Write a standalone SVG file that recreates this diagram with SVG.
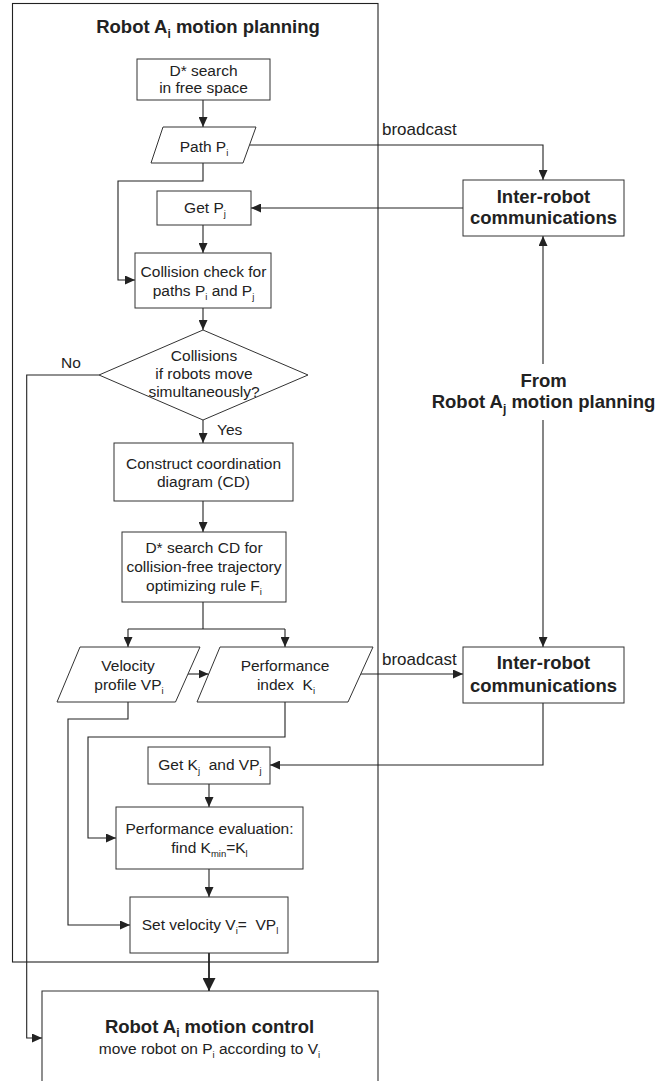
<svg xmlns="http://www.w3.org/2000/svg" width="670" height="1081" viewBox="0 0 670 1081">
<defs>
<style>
.bx{fill:#fff;stroke:#333;stroke-width:1}
.ln{fill:none;stroke:#222;stroke-width:1.1}
.t{font-family:"Liberation Sans",Arial,sans-serif;font-size:15.5px;fill:#222;text-anchor:middle;white-space:pre}
.b{font-family:"Liberation Sans",Arial,sans-serif;font-size:18.5px;font-weight:bold;fill:#222;text-anchor:middle}
.l{font-family:"Liberation Sans",Arial,sans-serif;font-size:17px;fill:#222}
.s{font-size:9.5px}
.sb{font-size:12px}
</style>
<marker id="ah" markerUnits="userSpaceOnUse" markerWidth="10" markerHeight="9" refX="10" refY="4.5" orient="auto"><path d="M0,0 L10,4.5 L0,9 z" fill="#222"/></marker>
<marker id="ahb" markerUnits="userSpaceOnUse" markerWidth="13" markerHeight="13" refX="13" refY="6.5" orient="auto"><path d="M0,0 L13,6.5 L0,13 z" fill="#222"/></marker>
</defs>
<rect width="670" height="1081" fill="#fff"/>

<g id="planning-frame">
<rect x="12.5" y="3.5" width="365.5" height="958.5" fill="none" stroke="#222" stroke-width="1.1"/>
<text class="b" x="208" y="33">Robot A<tspan class="sb" dy="5">i</tspan><tspan dy="-5"> motion planning</tspan></text>
</g>

<g id="connectors">
<path class="ln" d="M203,100 V127" marker-end="url(#ah)"/>
<path class="ln" d="M249.5,145 H543 V180" marker-end="url(#ah)"/>
<path class="ln" d="M463,208 H251" marker-end="url(#ah)"/>
<path class="ln" d="M203,163 V181 H118 V280 H135" marker-end="url(#ah)"/>
<path class="ln" d="M203,225 V253" marker-end="url(#ah)"/>
<path class="ln" d="M203,308 V330" marker-end="url(#ah)"/>
<path class="ln" d="M99,375 H26.7 V1038 H42" marker-end="url(#ah)"/>
<path class="ln" d="M203,420 V443" marker-end="url(#ah)"/>
<path class="ln" d="M203,501 V532" marker-end="url(#ah)"/>
<path class="ln" d="M203,602 V629"/>
<path class="ln" d="M128,629 H285"/>
<path class="ln" d="M128,629 V647" marker-end="url(#ah)"/>
<path class="ln" d="M285,629 V647" marker-end="url(#ah)"/>
<path class="ln" d="M187.7,674 H208.5" marker-end="url(#ah)"/>
<path class="ln" d="M360.7,674 H463" marker-end="url(#ah)"/>
<path class="ln" d="M543,364 V236" marker-end="url(#ah)"/>
<path class="ln" d="M543,420 V647" marker-end="url(#ah)"/>
<path class="ln" d="M543,703 V765 H270" marker-end="url(#ah)"/>
<path class="ln" d="M128,702 V719 H68 V925 H130" marker-end="url(#ah)"/>
<path class="ln" d="M285,702 V737 H88 V838 H116" marker-end="url(#ah)"/>
<path class="ln" d="M209,784 V807" marker-end="url(#ah)"/>
<path class="ln" d="M209,869 V897" marker-end="url(#ah)"/>
<path fill="none" stroke="#222" stroke-width="1.8" d="M209,953 V991" marker-end="url(#ahb)"/>
<text class="l" x="382" y="135">broadcast</text>
<text class="l" x="382" y="665">broadcast</text>
<text class="t" x="71" y="368">No</text>
<text class="t" x="217" y="435" style="text-anchor:start">Yes</text>
</g>

<g id="dstar-free">
<rect class="bx" x="137" y="59" width="133" height="41"/>
<text class="t" x="203.5" y="76">D* search</text>
<text class="t" x="203.5" y="93">in free space</text>
</g>

<g id="path-pi">
<polygon class="bx" points="163,127 256,127 243,163 151,163"/>
<text class="t" x="204" y="152">Path P<tspan class="s" dy="4">i</tspan></text>
</g>

<g id="get-pj">
<rect class="bx" x="157" y="191" width="94" height="34"/>
<text class="t" x="205" y="213">Get P<tspan class="s" dy="4">j</tspan></text>
</g>

<g id="collision-check">
<rect class="bx" x="135" y="253" width="136" height="55"/>
<text class="t" x="203.5" y="277">Collision check for</text>
<text class="t" x="203.5" y="296">paths P<tspan class="s" dy="4">i</tspan><tspan dy="-4"> and P</tspan><tspan class="s" dy="4">j</tspan></text>
</g>

<g id="decision">
<polygon class="bx" points="203,330 308,375 203,420 99,375"/>
<text class="t" x="204" y="361">Collisions</text>
<text class="t" x="204" y="379">if robots move</text>
<text class="t" x="204" y="397">simultaneously?</text>
</g>

<g id="construct-cd">
<rect class="bx" x="114" y="443" width="179" height="58"/>
<text class="t" x="203.5" y="469">Construct coordination</text>
<text class="t" x="203.5" y="487">diagram (CD)</text>
</g>

<g id="dstar-cd">
<rect class="bx" x="122" y="532" width="164" height="70"/>
<text class="t" x="204" y="553">D* search CD for</text>
<text class="t" x="204" y="572">collision-free trajectory</text>
<text class="t" x="204" y="591">optimizing rule F<tspan class="s" dy="4">i</tspan></text>
</g>

<g id="velocity-profile">
<polygon class="bx" points="80,647 200,647 175.5,702 57,702"/>
<text class="t" x="128" y="671">Velocity</text>
<text class="t" x="129" y="690">profile VP<tspan class="s" dy="4">i</tspan></text>
</g>

<g id="performance-index">
<polygon class="bx" points="220,647 373,647 348,702 197,702"/>
<text class="t" x="285" y="671">Performance</text>
<text class="t" x="286" y="690">index  K<tspan class="s" dy="4">i</tspan></text>
</g>

<g id="inter-robot-1">
<rect class="bx" x="463" y="180" width="161" height="56"/>
<text class="b" x="543.5" y="203">Inter-robot</text>
<text class="b" x="543.5" y="224">communications</text>
</g>

<g id="from-robot-aj">
<text class="b" x="543.5" y="387">From</text>
<text class="b" x="543.5" y="408">Robot A<tspan class="sb" dy="5">j</tspan><tspan dy="-5"> motion planning</tspan></text>
</g>

<g id="inter-robot-2">
<rect class="bx" x="463" y="647" width="161" height="56"/>
<text class="b" x="543.5" y="669">Inter-robot</text>
<text class="b" x="543.5" y="692">communications</text>
</g>

<g id="get-kj">
<rect class="bx" x="148" y="747" width="122" height="37"/>
<text class="t" x="210" y="770">Get K<tspan class="s" dy="4">j</tspan><tspan dy="-4">  and VP</tspan><tspan class="s" dy="4">j</tspan></text>
</g>

<g id="performance-eval">
<rect class="bx" x="116" y="807" width="187" height="62"/>
<text class="t" x="209.5" y="834">Performance evaluation:</text>
<text class="t" x="209.5" y="853">find K<tspan class="s" dy="4">min</tspan><tspan dy="-4">=K</tspan><tspan class="s" dy="4">l</tspan></text>
</g>

<g id="set-velocity">
<rect class="bx" x="130" y="897" width="158" height="56"/>
<text class="t" x="210" y="930">Set velocity V<tspan class="s" dy="4">i</tspan><tspan dy="-4">=  VP</tspan><tspan class="s" dy="4">l</tspan></text>
</g>

<g id="motion-control">
<path d="M42,1085 V991 H378 V1085" fill="#fff" stroke="#333" stroke-width="1.1"/>
<text class="b" x="209.5" y="1033">Robot A<tspan class="sb" dy="4">i</tspan><tspan dy="-4"> motion control</tspan></text>
<text class="t" x="209.5" y="1054">move robot on P<tspan class="s" dy="4">i</tspan><tspan dy="-4"> according to V</tspan><tspan class="s" dy="4">i</tspan></text>
</g>
</svg>
